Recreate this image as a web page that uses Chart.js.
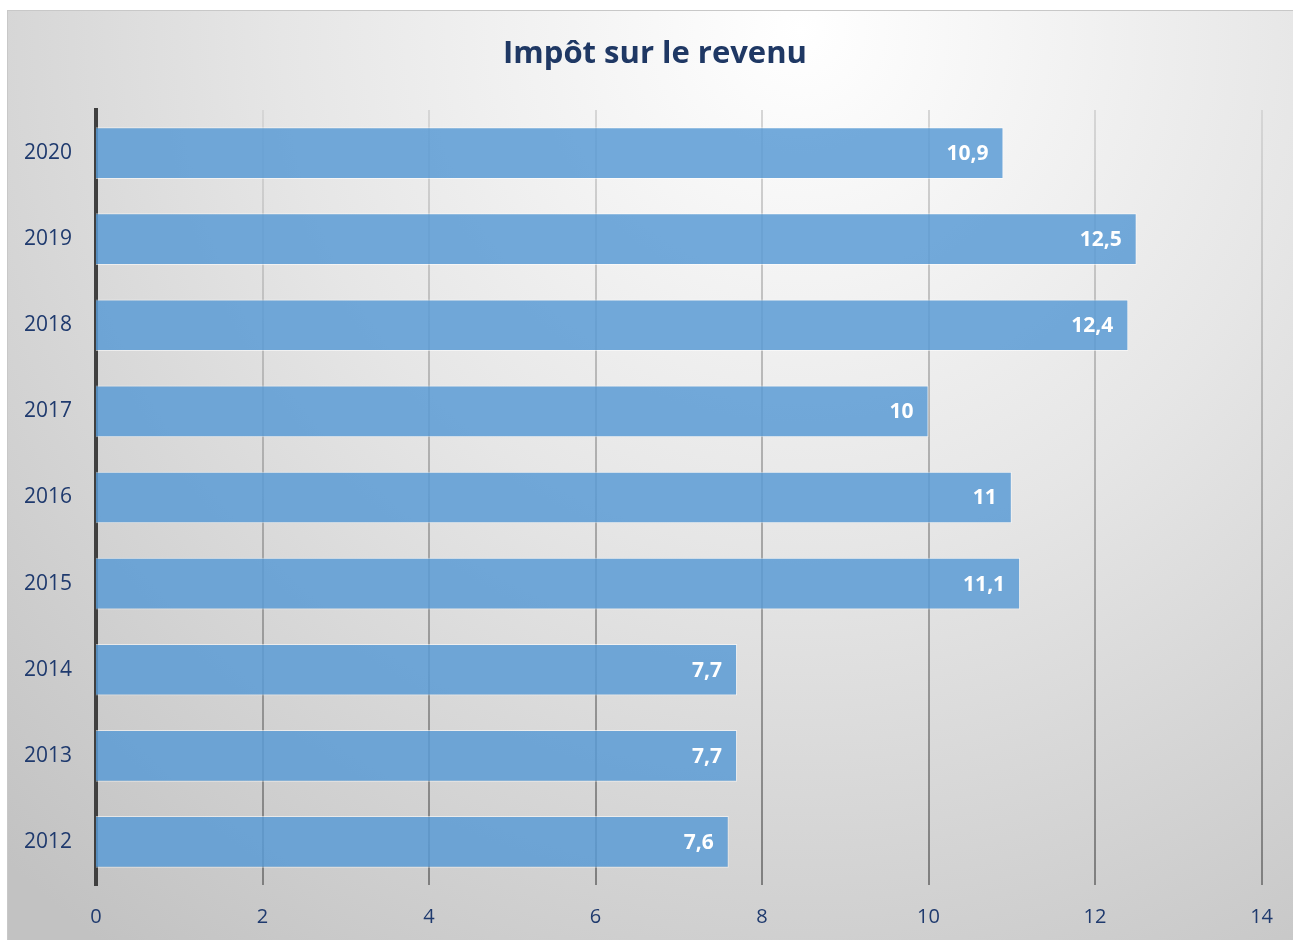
<!DOCTYPE html>
<html>
<head>
<meta charset="utf-8">
<script src="https://cdn.jsdelivr.net/npm/chart.js@4/dist/chart.umd.min.js"></script>
<style>
  body { margin: 0; background: #fff; }
  #wrap { width: 1293px; height: 940px; }
</style>
</head>
<body>
<div id="wrap"><canvas id="bar-chart"></canvas></div>
<script>
/* Impôt sur le revenu */
var years = ["2020", "2019", "2018", "2017", "2016", "2015", "2014", "2013", "2012"];
var impot = [10.9, 12.5, 12.4, 10, 11, 11.1, 7.7, 7.7, 7.6];
var xTicks = [0, 2, 4, 6, 8, 10, 12, 14];
var chartTitle = "Impôt sur le revenu";

var navy = "#1f3a6e";

// gray radial background of the chart box
var boxBackground = {
  id: 'boxBackground',
  beforeDraw: function (chart) {
    var c = chart.ctx;
    var x0 = 7, y0 = 10, w = chart.width - x0, h = chart.height - y0;
    var g = c.createRadialGradient(800, 30, 0, 800, 30, 1150);
    g.addColorStop(0, "#ffffff");
    g.addColorStop(0.45, "#e6e6e6");
    g.addColorStop(1, "#c2c2c2");
    c.save();
    c.fillStyle = g;
    c.fillRect(x0, y0, w, h);
    c.strokeStyle = "#c8c8c8";
    c.lineWidth = 1;
    c.strokeRect(x0 + 0.5, y0 + 0.5, w, h);
    c.restore();
  },
  afterDraw: function (chart) {
    // title, centred on the chart box
    var c = chart.ctx;
    c.save();
    c.fillStyle = "#1f3864";
    c.font = "bold 31px 'Open Sans'";
    c.textAlign = "center";
    c.textBaseline = "middle";
    c.fillText(chartTitle, 655, 54);
    c.restore();
  }
};

// white values at the bar ends
var barValues = {
  id: 'barValues',
  afterDatasetsDraw: function (chart) {
    var c = chart.ctx;
    var meta = chart.getDatasetMeta(0);
    c.save();
    c.fillStyle = "#ffffff";
    c.font = "bold 21px 'Open Sans'";
    c.textAlign = "right";
    c.textBaseline = "middle";
    meta.data.forEach(function (bar, i) {
      var txt = String(impot[i]).replace(".", ",");
      c.fillText(txt, bar.x - 15, bar.y + 1);
    });
    c.restore();
  }
};

new Chart(document.getElementById("bar-chart").getContext('2d'), {
  type: 'bar',
  data: {
    labels: years,
    datasets: [{
      label: chartTitle,
      data: impot,
      backgroundColor: "rgba(91,155,213,0.85)",
      borderColor: "rgba(255,255,255,0.55)",
      borderWidth: 1,
      borderSkipped: 'left',
      barPercentage: 0.6,
      categoryPercentage: 1
    }]
  },
  options: {
    indexAxis: 'y',
    responsive: true,
    maintainAspectRatio: false,
    animation: false,
    layout: { padding: { top: 110, right: 29, left: 0, bottom: 0 } },
    plugins: {
      legend: { display: false },
      tooltip: { enabled: false },
      title: { display: false }
    },
    scales: {
      x: {
        min: 0,
        max: 14,
        afterBuildTicks: function (scale) {
          scale.ticks = xTicks.map(function (v) { return { value: v }; });
        },
        afterFit: function (scale) { scale.height = 55; },
        border: { display: false },
        grid: {
          drawTicks: false,
          lineWidth: function (ctx) { return ctx.tick && ctx.tick.value === 0 ? 0 : 2; },
          color: function (ctx) {
            var area = ctx.chart.chartArea;
            if (!area) return "#aaa";
            var g = ctx.chart.ctx.createLinearGradient(0, area.top, 0, area.bottom);
            g.addColorStop(0, "#d6d6d6");
            g.addColorStop(1, "#7f7f7f");
            return g;
          }
        },
        ticks: {
          color: navy,
          padding: 20,
          font: { family: "'Open Sans'", size: 20 }
        }
      },
      y: {
        afterFit: function (scale) { scale.width = 96; },
        border: { display: true, color: "#404040", width: 4 },
        grid: { display: false },
        ticks: {
          color: navy,
          padding: 16,
          font: { family: "'Open Sans'", size: 21 }
        }
      }
    }
  },
  plugins: [boxBackground, barValues]
});
</script>
</body>
</html>
